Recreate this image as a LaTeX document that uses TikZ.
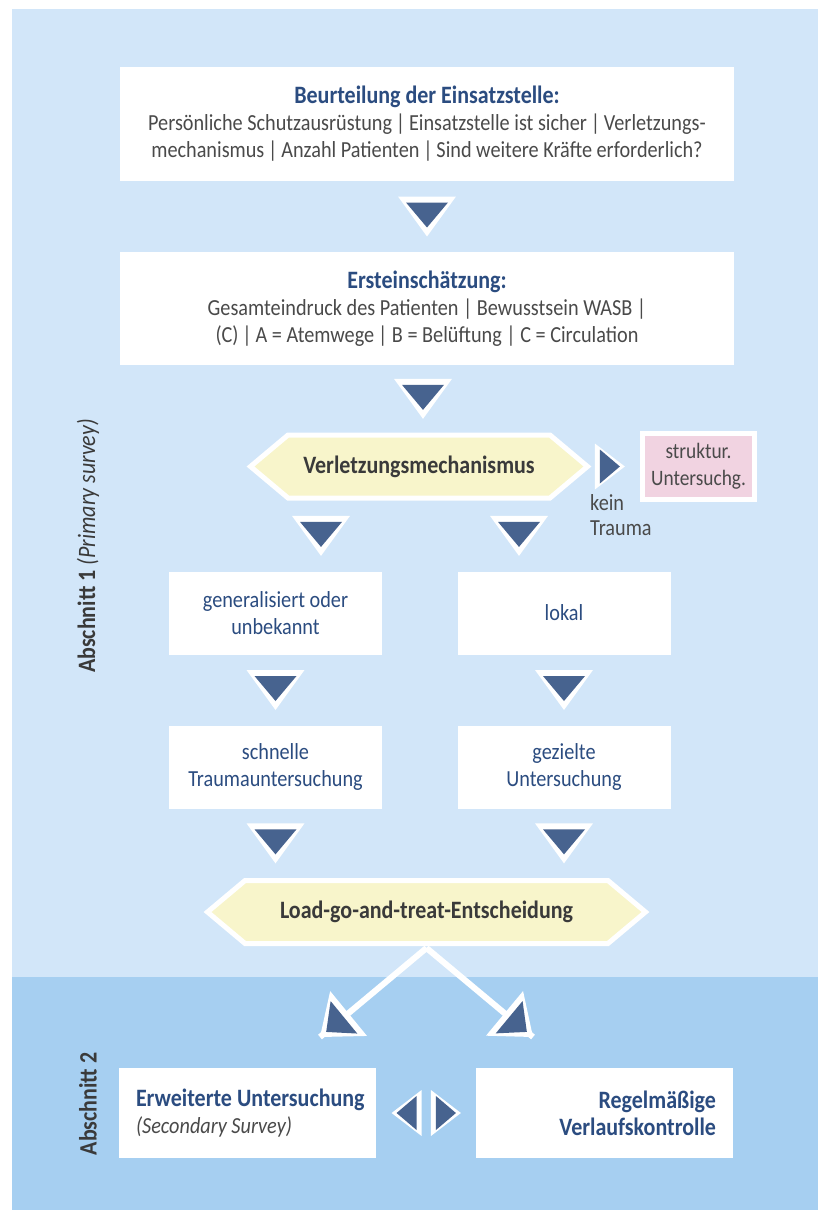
\documentclass[tikz,border=0pt]{standalone}
\usepackage{fontspec}
\setmainfont{Carlito}[FakeStretch=0.88]
\usetikzlibrary{shapes.symbols,positioning,calc}
\definecolor{panelone}{HTML}{D2E6F9}
\definecolor{paneltwo}{HTML}{A6CFF1}
\definecolor{titleblue}{HTML}{2B4C80}
\definecolor{arrowblue}{HTML}{47638F}
\definecolor{bodygray}{HTML}{4A4A4A}
\definecolor{hextext}{HTML}{3A3A3A}
\definecolor{hexyellow}{HTML}{F8F5CB}
\definecolor{pinkish}{HTML}{F1D3E1}
\newcommand{\boxtitle}[1]{\textcolor{titleblue}{\fontsize{25}{27}\selectfont\bfseries #1}}

\begin{document}
\begin{tikzpicture}[
  x=1pt,y=-1pt,
  font=\fontsize{23}{27}\selectfont,
  box/.style={rectangle,fill=white,inner sep=0pt,align=center,text=bodygray},
  bluebox/.style={box,text=titleblue,minimum width=213,minimum height=83},
  hexbox/.style={signal,signal to=west and east,signal pointer angle=80,fill=hexyellow,draw=white,line width=5pt,inner sep=0pt,minimum height=63,font=\fontsize{25}{27}\selectfont\bfseries,text=hextext},
  side/.style={rotate=90,font=\fontsize{25}{27}\selectfont\bfseries,text=hextext},
  downtri/.pic={
    \fill[white] (-29,-20) -- (29,-20) -- (0,20) -- cycle;
    \fill[arrowblue] (-21,-14) -- (21,-14) -- (0,11) -- cycle;
  },
  sidetri/.pic={
    \fill[white] (-15,-23) -- (-15,23) -- (15,0) -- cycle;
    \fill[arrowblue] (-10,-17) -- (-10,17) -- (10,0) -- cycle;
  },
  tiparrow/.pic={
    \fill[white] (-37,-29) -- (-37,29) -- (0,0) -- cycle;
    \fill[arrowblue] (-31,-21) -- (-31,21) -- (-8,0) -- cycle;
  }
]
% background
\fill[white] (0,0) rectangle (818,1210);
\fill[panelone] (12,9) rectangle (818,977);
\fill[paneltwo] (12,977) rectangle (818,1210);

% Abschnitt 1
\node[box,minimum width=614,minimum height=114] (scene) at (427,124) {\boxtitle{Beurteilung der Einsatzstelle:}\\Persönliche Schutzausrüstung\,|\,Einsatzstelle ist sicher\,|\,Verletzungs-\\mechanismus\,|\,Anzahl Patienten\,|\,Sind weitere Kräfte erforderlich?};
\node[box,minimum width=614,minimum height=113] (first) at (427,308.5) {\boxtitle{Ersteinschätzung:}\\Gesamteindruck des Patienten | Bewusstsein WASB |\\(C)\,|\,A = Atemwege\,| B = Belüftung | C = Circulation};
\node[hexbox,minimum width=337] (mech) at (419,466.5) {Verletzungsmechanismus};
\node[box,fill=pinkish,draw=white,line width=5pt,minimum width=112,minimum height=66,font=\fontsize{22}{27}\selectfont] (struk) at (698.5,466.5) {struktur.\\Untersuchg.};
\node[anchor=north west,inner sep=0pt,align=left,text=bodygray,font=\fontsize{23}{25}\selectfont] (kein) at (590,494) {kein\\Trauma};
\node[bluebox] (gen) at (275.5,613) {generalisiert oder\\unbekannt};
\node[bluebox] (lok) at (564,613) {lokal};
\node[bluebox] (fast) at (275.5,767) {schnelle\\Traumauntersuchung};
\node[bluebox] (focus) at (564,767) {gezielte\\Untersuchung};
\node[hexbox,minimum width=438] (lgt) at (426.5,912) {Load-go-and-treat-Entscheidung};

% Abschnitt 2
\node[box,minimum width=257,minimum height=90,text width=223,align=flush left] (sec) at (247.5,1113) {\mbox{\boxtitle{Erweiterte Untersuchung}}\\\textit{(Secondary Survey)}};
\node[box,minimum width=257,minimum height=90,text width=223,align=flush right,text=titleblue,font=\fontsize{25}{27}\selectfont\bfseries] (reg) at (604.5,1113) {Regelmäßige\\Verlaufskontrolle};

\node[side] (abone) at (88,546) {Abschnitt 1 {\mdseries\itshape (Primary survey)}};
\node[side] (abtwo) at (88,1104) {Abschnitt 2};

% connectors
\coordinate (mechL) at ($(mech.south)+(-98,0)$);
\coordinate (mechR) at ($(mech.south)+(100,0)$);
\coordinate (tipL) at (320,1037);
\coordinate (tipR) at (533,1037);
\path (scene.south) -- pic{downtri} (first.north);
\path (first.south) -- pic{downtri} (mech.north);
\path (mech.east) -- pic[pos=.38]{sidetri} (struk.west);
\path (mechL) -- pic{downtri} (mechL |- gen.north);
\path (mechR) -- pic{downtri} (mechR |- lok.north);
\path (gen) -- pic{downtri} (fast);
\path (lok) -- pic{downtri} (focus);
\path (fast.south) -- pic{downtri} (fast.south |- lgt.north);
\path (focus.south) -- pic{downtri} (focus.south |- lgt.north);
\draw[white,line width=6pt] ([yshift=-2pt]lgt.south) -- (tipL) ([yshift=-2pt]lgt.south) -- (tipR);
\path (lgt.south) -- pic[pos=1,rotate=219.4]{tiparrow} (tipL);
\path (lgt.south) -- pic[pos=1,rotate=-39.7]{tiparrow} (tipR);
\path (sec.east) -- pic[pos=.305,rotate=180]{sidetri} pic[pos=.70]{sidetri} (reg.west);
\end{tikzpicture}
\end{document}
